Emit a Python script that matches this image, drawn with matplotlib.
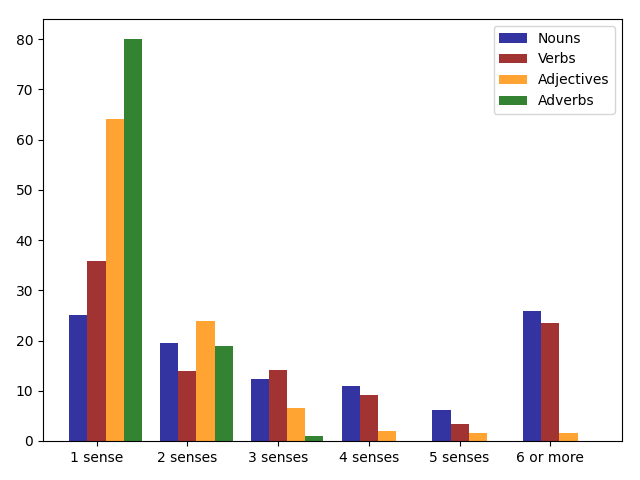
import numpy as np
import matplotlib
matplotlib.use("Agg")
import matplotlib.pyplot as plt

labels = ['1 sense', '2 senses', '3 senses', '4 senses', '5 senses', '6 or more']
nouns = [25.0, 19.5, 12.3, 10.9, 6.2, 25.9]
verbs = [35.8, 13.9, 14.1, 9.2, 3.4, 23.5]
adjectives = [64.1, 23.9, 6.6, 2.0, 1.6, 1.6]
adverbs = [80.0, 18.9, 1.0, 0.0, 0.0, 0.0]

def main():
	index = np.arange(len(labels))
	bar_width = 0.2
	opacity = 0.8
	fig, ax = plt.subplots(figsize=(6.4, 4.8), dpi=100)
	ax.bar(index, nouns, bar_width, alpha=opacity, color='darkblue', label='Nouns')
	ax.bar(index + bar_width, verbs, bar_width, alpha=opacity, color='darkred', label='Verbs')
	ax.bar(index + 2*bar_width, adjectives, bar_width, alpha=opacity, color='darkorange', label='Adjectives')
	ax.bar(index + 3*bar_width, adverbs, bar_width, alpha=opacity, color='darkgreen', label='Adverbs')
	ax.set_xticks(index + bar_width)
	ax.set_xticklabels(labels)
	ax.legend()
	fig.subplots_adjust(left=0.0672, right=0.972, top=0.9604, bottom=0.0813)
	plt.savefig('out.png')

if __name__ == '__main__':
	main()
